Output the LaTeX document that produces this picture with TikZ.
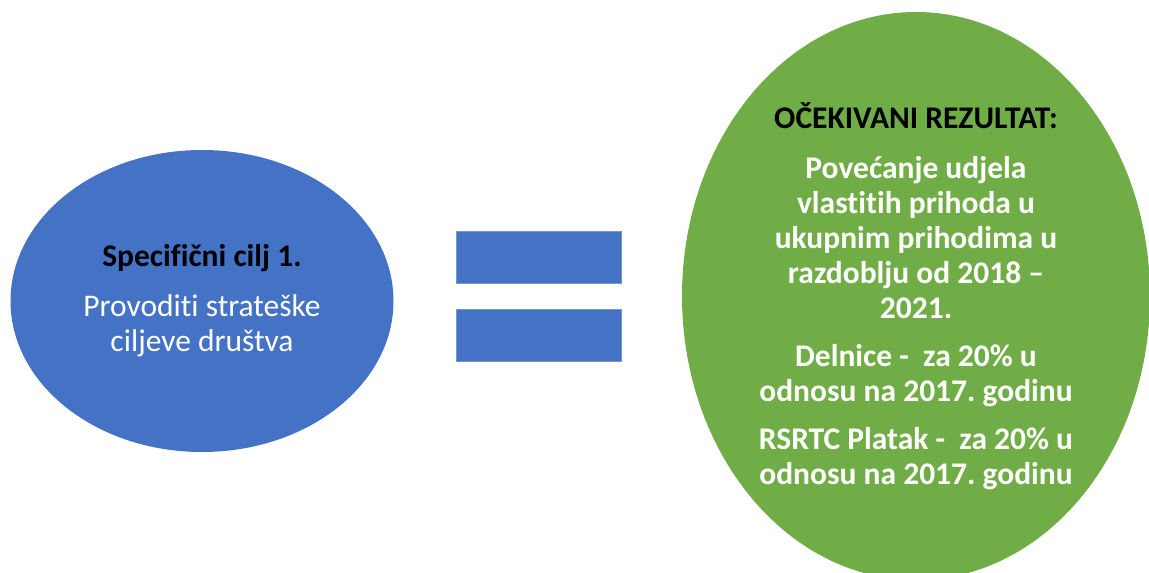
\documentclass[tikz,border=0pt]{standalone}
\usepackage{fontspec}
\setmainfont{Carlito}[Ligatures=NoCommon]
\usetikzlibrary{shapes.geometric, positioning}
\definecolor{ciljblue}{HTML}{4472C4}
\definecolor{rezgreen}{HTML}{70AD47}
\tikzset{
  krug/.style={ellipse, fill=#1, draw=none, inner sep=0pt, align=center, text=white},
  traka/.style={rectangle, fill=ciljblue, draw=ciljblue!75!white, line width=0.6pt,
    minimum width=165pt, minimum height=52pt, inner sep=0pt},
}
\newcommand{\velik}{\fontsize{31.5}{35}\selectfont}
\frenchspacing

\begin{document}
\begin{tikzpicture}[x=1pt, y=-1pt]
  \useasboundingbox (0,0) rectangle (1149,573);
  \clip (0,0) rectangle (1149,573);

  \node[krug=ciljblue, minimum width=383pt, minimum height=302pt, font=\velik]
    (cilj) at (202,301)
    {\textcolor{black}{\bfseries Specifični cilj 1.}\\[15pt]
     Provoditi strateške\\ ciljeve društva};

  % znak jednakosti
  \node[traka] (gornja) at (538.5,257) {};
  \node[traka, below=26pt of gornja] (donja) {};

  \node[krug=rezgreen, minimum width=468pt, minimum height=568pt, font=\velik\bfseries]
    (rezultat) at (916,296)
    {\textcolor{black}{OČEKIVANI REZULTAT:}\\[15pt]
     Povećanje udjela\\ vlastitih prihoda u\\ ukupnim prihodima u\\
     razdoblju od 2018 --\\ 2021.\\[13pt]
     Delnice -\ \ za 20\% u\\ odnosu na 2017. godinu\\[13pt]
     RSRTC Platak -\ \ za 20\% u\\ odnosu na 2017. godinu};
\end{tikzpicture}
\end{document}
